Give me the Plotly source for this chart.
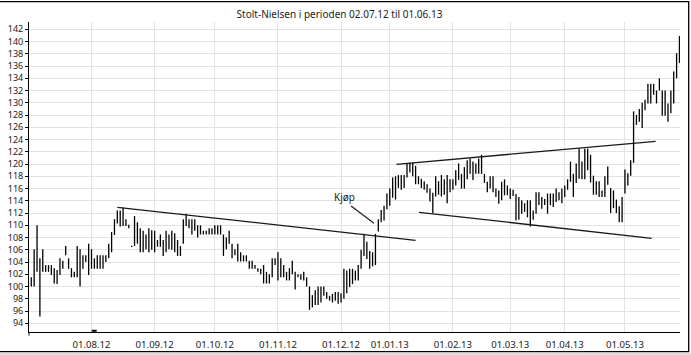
import plotly.graph_objects as go

# ---- data ----
title_text = "Stolt-Nielsen i perioden 02.07.12 til 01.06.13"
month_labels = ["01.08.12", "01.09.12", "01.10.12", "01.11.12", "01.12.12",
                "01.01.13", "01.02.13", "01.03.13", "01.04.13", "01.05.13"]
# trading days per month: Jul..May
month_counts = [21, 22, 21, 22, 22, 17, 22, 20, 19, 21, 20]

high = [
    # Jul
    101.5, 106.1, 110.0, 104.6, 106.1, 103.5, 103.5, 103.5, 103.0, 102.7, 104.6,
    104.2, 106.6, 104.6, 103.0, 102.4, 106.6, 106.1, 105.1, 105.1, 107.0,
    # Aug
    106.1, 104.6, 105.1, 105.1, 105.1, 105.1, 107.0, 108.9, 111.0, 112.4, 112.4,
    112.9, 111.0, 110.1, 106.65, 111.5, 110.5, 109.5, 109.1, 108.5, 109.5, 109.2,
    # Sep
    109.1, 107.6, 108.5, 107.6, 109.1, 108.5, 109.1, 108.7, 107.6, 106.6, 111.0,
    111.9, 111.0, 111.0, 111.0, 110.0, 110.0, 109.1, 109.1, 109.5, 109.5,
    # Oct
    110.0, 110.0, 110.0, 108.5, 108.0, 109.1, 107.0, 106.1, 107.0, 105.6, 105.1,
    105.1, 104.2, 104.2, 103.5, 103.0, 102.9, 103.5, 102.4, 102.0, 104.6, 104.6,
    # Nov
    105.6, 104.6, 103.5, 102.4, 103.0, 104.2, 102.4, 102.0, 102.0, 102.4, 101.5,
    100.0, 98.6, 99.4, 100.0, 100.0, 100.0, 99.1, 98.5, 98.8, 99.1, 99.1,
    # Dec
    98.9, 102.9, 102.6, 102.9, 102.9, 102.6, 103.5, 106.0, 108.6, 107.3, 105.8,
    105.6, 108.6, 111.0, 112.5, 113.2, 115.2,
    # Jan
    116.0, 117.8, 118.0, 118.2, 118.2, 118.2, 120.1, 120.2, 120.2, 119.7, 118.0,
    117.6, 117.2, 116.7, 116.0, 115.3, 118.0, 117.2, 118.2, 117.5, 118.2, 117.5,
    # Feb
    117.5, 119.0, 120.1, 118.4, 119.5, 120.6, 120.9, 120.4, 120.1, 120.9, 121.5,
    118.4, 117.1, 118.0, 118.0, 116.0, 115.7, 117.1, 117.5, 116.5,
    # Mar
    116.0, 115.8, 115.1, 114.6, 114.1, 113.6, 114.1, 114.1, 112.4, 115.4, 115.4,
    114.6, 114.3, 115.2, 115.2, 115.2, 116.0, 115.4, 116.0,
    # Apr
    116.5, 117.5, 120.4, 118.4, 120.1, 122.5, 120.4, 122.5, 122.5, 121.5, 118.1,
    117.2, 117.2, 115.7, 118.0, 119.6, 116.1, 115.7, 114.2, 113.1, 114.6,
    # May
    119.1, 118.5, 120.6, 128.6, 128.0, 129.0, 130.0, 130.5, 133.1, 133.1, 133.1,
    132.0, 134.0, 132.0, 132.0, 129.9, 132.0, 135.1, 138.1, 140.9,
]
low = [
    # Jul
    100.0, 100.0, 102.4, 95.1, 102.4, 102.4, 102.4, 101.9, 100.5, 100.4, 101.9,
    102.9, 105.1, 102.9, 101.5, 101.5, 101.5, 100.0, 102.9, 104.0, 101.9,
    # Aug
    102.9, 102.9, 102.9, 102.9, 102.9, 104.0, 104.6, 105.6, 108.4, 110.3, 109.8,
    109.9, 109.9, 109.5, 106.45, 106.6, 107.0, 105.6, 105.6, 106.1, 105.6, 106.0,
    # Sep
    105.6, 106.5, 106.5, 105.0, 105.6, 106.1, 106.0, 105.6, 105.0, 105.0, 107.0,
    109.9, 109.5, 108.5, 109.1, 108.0, 108.5, 108.5, 108.5, 108.5, 108.5,
    # Oct
    108.5, 108.5, 108.5, 105.0, 106.1, 107.0, 104.6, 105.1, 104.1, 104.1, 104.1,
    104.1, 102.9, 102.9, 102.9, 102.4, 102.0, 100.5, 100.5, 100.5, 101.5, 103.5,
    # Nov
    101.0, 101.5, 101.5, 101.0, 101.0, 102.0, 99.5, 101.5, 101.1, 101.0, 100.0,
    96.2, 96.6, 97.0, 97.0, 97.4, 98.5, 98.0, 97.7, 97.4, 97.7, 97.2,
    # Dec
    97.4, 98.0, 98.9, 99.9, 100.4, 101.0, 101.0, 102.9, 105.0, 104.5, 102.9,
    103.3, 103.5, 109.0, 110.5, 110.8, 112.6,
    # Jan
    113.2, 114.5, 114.2, 116.1, 115.8, 116.1, 117.8, 118.6, 118.0, 116.7, 116.7,
    116.1, 115.8, 115.3, 113.9, 112.0, 114.7, 115.0, 114.7, 115.0, 113.6, 115.4,
    # Feb
    115.8, 116.5, 117.4, 116.0, 116.0, 117.5, 118.4, 117.4, 118.4, 118.4, 118.4,
    116.9, 115.4, 116.0, 115.4, 114.6, 113.5, 114.1, 114.9, 114.9,
    # Mar
    114.3, 114.8, 110.8, 110.9, 111.9, 112.2, 111.3, 109.8, 110.9, 111.9, 113.3,
    112.7, 113.3, 111.9, 113.3, 113.0, 113.8, 114.1, 113.6,
    # Apr
    114.6, 115.8, 117.1, 114.6, 116.9, 117.6, 117.5, 117.5, 119.0, 117.0, 115.0,
    115.0, 114.6, 114.6, 114.6, 116.6, 112.0, 112.8, 112.0, 110.5, 110.5,
    # May
    115.2, 116.5, 118.1, 120.2, 126.4, 126.9, 125.9, 128.8, 129.9, 129.9, 131.3,
    129.9, 132.0, 127.9, 127.9, 126.9, 128.3, 129.9, 134.0, 136.5,
]

# hand-drawn trend lines: (start index, start value, end index, end value)
trend_lines = [
    (30.0, 112.94, 134.0, 107.55),
    (127.3, 119.96, 217.7, 123.71),
    (135.2, 112.12, 216.3, 107.88),
]
buy_label = "Kjøp"
buy_text_pos = (109.3, 114.6)
buy_pointer = (111.5, 113.15, 119.5, 110.33)

# ---- build ----
xs, ys = [], []
for i, (h, l) in enumerate(zip(high, low)):
    xs += [i, i, None]
    ys += [l, h, None]

tickvals = []
acc = 0
for c in month_counts[:-1]:
    acc += c
    tickvals.append(acc)

fig = go.Figure()
fig.add_trace(go.Scatter(x=xs, y=ys, mode="lines",
                         line=dict(color="black", width=1.3),
                         hoverinfo="skip", showlegend=False))

font_family = "Noto Sans"
shapes = []
for (x0, y0, x1, y1) in trend_lines:
    shapes.append(dict(type="line", xref="x", yref="y", x0=x0, y0=y0, x1=x1, y1=y1,
                       line=dict(color="#1a1a1a", width=1.3)))
bx0, by0, bx1, by1 = buy_pointer
shapes.append(dict(type="line", xref="x", yref="y", x0=bx0, y0=by0, x1=bx1, y1=by1,
                   line=dict(color="#1a1a1a", width=1.1)))
# small tick at x-axis origin
shapes.append(dict(type="line", xref="paper", yref="paper", x0=0, x1=0, y0=0, y1=-3.5 / 310,
                   line=dict(color="black", width=1)))
# small mark near the first month gridline at the bottom
shapes.append(dict(type="line", xref="x", yref="y", x0=21.06, x1=22.8, y0=92.78, y1=92.78,
                   line=dict(color="black", width=2)))
# outer frame
shapes.append(dict(type="rect", xref="paper", yref="paper",
                   x0=-0.05, x1=(688.7 - 29) / 651, y0=(332 - 351.7) / 310, y1=(332 - 1.7) / 310,
                   line=dict(color="black", width=1.3)))
shapes.append(dict(type="line", xref="paper", yref="paper",
                   x0=-0.05, x1=1.02, y0=(332 - 354) / 310, y1=(332 - 354) / 310,
                   line=dict(color="#bbbbbb", width=1)))

fig.update_layout(
    width=691, height=355,
    margin=dict(l=29, r=11, t=22, b=23, autoexpand=False),
    paper_bgcolor="white", plot_bgcolor="white",
    title=dict(text=title_text, x=(339.5 - 29) / 651, xref="paper", xanchor="center",
               y=1 - 14 / 355, yref="container", yanchor="middle",
               font=dict(family=font_family, size=10, color="#222")),
    showlegend=False,
    shapes=shapes,
    annotations=[dict(x=buy_text_pos[0], y=buy_text_pos[1], xref="x", yref="y",
                      text=buy_label, showarrow=False,
                      font=dict(family=font_family, size=10, color="#222"))],
    xaxis=dict(range=[-0.8, 226.19], tickmode="array", tickvals=tickvals, ticktext=month_labels,
               showgrid=True, gridcolor="#e3e3e3", gridwidth=1,
               showline=True, linecolor="black", linewidth=1,
               ticks="outside", ticklen=3, tickcolor="rgba(0,0,0,0)",
               tickfont=dict(family=font_family, size=9.6, color="#222"),
               zeroline=False, fixedrange=True, automargin=False),
    yaxis=dict(range=[92.58, 143.19], tick0=0, dtick=2,
               showgrid=True, gridcolor="#e3e3e3", gridwidth=1,
               showline=True, linecolor="black", linewidth=1,
               ticks="outside", ticklen=3, tickcolor="black",
               tickfont=dict(family=font_family, size=9, color="#222"),
               zeroline=False, fixedrange=True, automargin=False),
)

fig.write_html("out.html")
